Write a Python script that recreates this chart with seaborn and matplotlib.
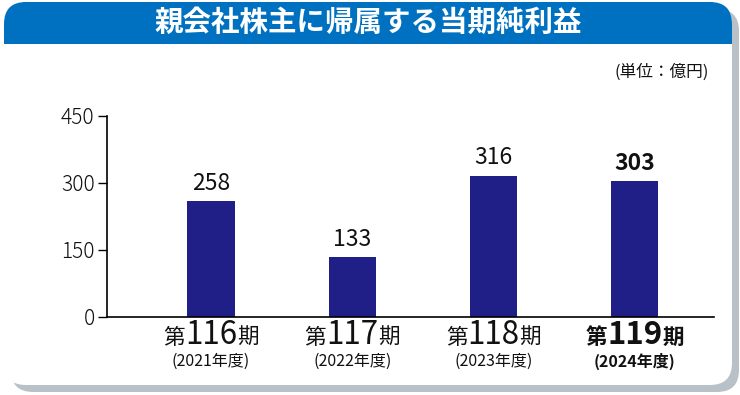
import matplotlib
matplotlib.use('Agg')
import matplotlib.pyplot as plt
import seaborn as sns
import pandas as pd
from matplotlib.patches import FancyBboxPatch, Rectangle
from matplotlib.transforms import IdentityTransform
from matplotlib.offsetbox import TextArea, HPacker, AnnotationBbox

# ---- data ----
title = "親会社株主に帰属する当期純利益"
unit = "(単位：億円)"
periods = ["116", "117", "118", "119"]
years = ["2021", "2022", "2023", "2024"]
values = [258, 133, 316, 303]
yticks = [0, 150, 300, 450]

# ---- style ----
BLUE = "#0071c1"
BAR = "#1f1f87"
SHADOW = "#b9c1c8"
INK = "#111111"

sns.set_theme(style="white")
plt.rcParams['font.family'] = ['Noto Sans CJK JP', 'DejaVu Sans']

W, H = 740, 395
fig = plt.figure(figsize=(W / 100, H / 100), dpi=100)
fig.patch.set_facecolor('white')


def rounded(x0, ytop, x1, ybot, color, r=22, z=-5):
    p = FancyBboxPatch((x0, H - ybot), x1 - x0, ybot - ytop,
                       boxstyle=f"round,pad=0,rounding_size={r}",
                       transform=IdentityTransform(), fc=color, ec='none',
                       zorder=z)
    fig.add_artist(p)
    return p


rounded(11, 9, 739, 392, SHADOW, z=-6)
rounded(4, 2, 732, 385, 'white', z=-5)
banner = rounded(4, 2, 732, 120, BLUE, z=-4)
clip = Rectangle((0, H - 44), W, 44, transform=IdentityTransform())
banner.set_clip_path(clip)

fig.text(368 / W, 1 - 23 / H, title, color='white', fontsize=20.5,
         fontweight='bold', ha='center', va='center')
fig.text(709 / W, 1 - 72 / H, unit, color=INK, fontsize=12,
         ha='right', va='center')

# ---- axes ----
ax = fig.add_axes([106.5 / W, 78.3 / H, (714 - 106.5) / W, 201 / H])
ax.patch.set_alpha(0)
df = pd.DataFrame({"period": periods, "value": values})
sns.barplot(data=df, x="period", y="value", color=BAR, saturation=1,
            width=0.333, ax=ax, edgecolor='none')
ax.set_xlim(-0.740, 3.562)
ax.set_ylim(0, 450)
ax.set_yticks(yticks)
ax.set_yticklabels([str(t) for t in yticks])
ax.set_xticks([])
ax.set_xlabel('')
ax.set_ylabel('')
for s in ['top', 'right']:
    ax.spines[s].set_visible(False)
for s in ['left', 'bottom']:
    ax.spines[s].set_color('black')
    ax.spines[s].set_linewidth(1.2)
ax.tick_params(axis='y', left=True, direction='out', length=6.5, width=1,
               color='black', labelsize=15, pad=2, labelcolor=INK)
for lab in ax.get_yticklabels():
    lab.set_fontweight('light')

# value labels
for i, v in enumerate(values):
    w = 'bold' if i == 3 else 'normal'
    ax.annotate(str(v), xy=(i, v), xytext=(0, 4.5), textcoords='offset points',
                ha='center', va='bottom', fontsize=16.5, fontweight=w,
                color=INK, annotation_clip=False)

# x category labels
xt = ax.get_xaxis_transform()
for i, (p, y) in enumerate(zip(periods, years)):
    w = 'bold' if i == 3 else 'normal'
    tp_small = dict(fontsize=15.5, fontweight=w, color=INK)
    tp_big = dict(fontsize=22.5, fontweight=w, color=INK)
    box = HPacker(children=[TextArea('第', textprops=tp_small),
                            TextArea(p, textprops=tp_big),
                            TextArea('期', textprops=tp_small)],
                  align='baseline', pad=0, sep=0)
    ab = AnnotationBbox(box, (i, 0), xycoords=xt, xybox=(0, -1.8),
                        boxcoords='offset points', box_alignment=(0.5, 1),
                        frameon=False, pad=0, annotation_clip=False)
    ax.add_artist(ab)
    ax.annotate(f'({y}年度)', xy=(i, 0), xycoords=xt,
                xytext=(0, -(361.5 - 316.7) * 0.72), textcoords='offset points',
                ha='center', va='center', fontsize=11.5, fontweight=w,
                color=INK, annotation_clip=False)

fig.savefig('out.png', dpi=100)
